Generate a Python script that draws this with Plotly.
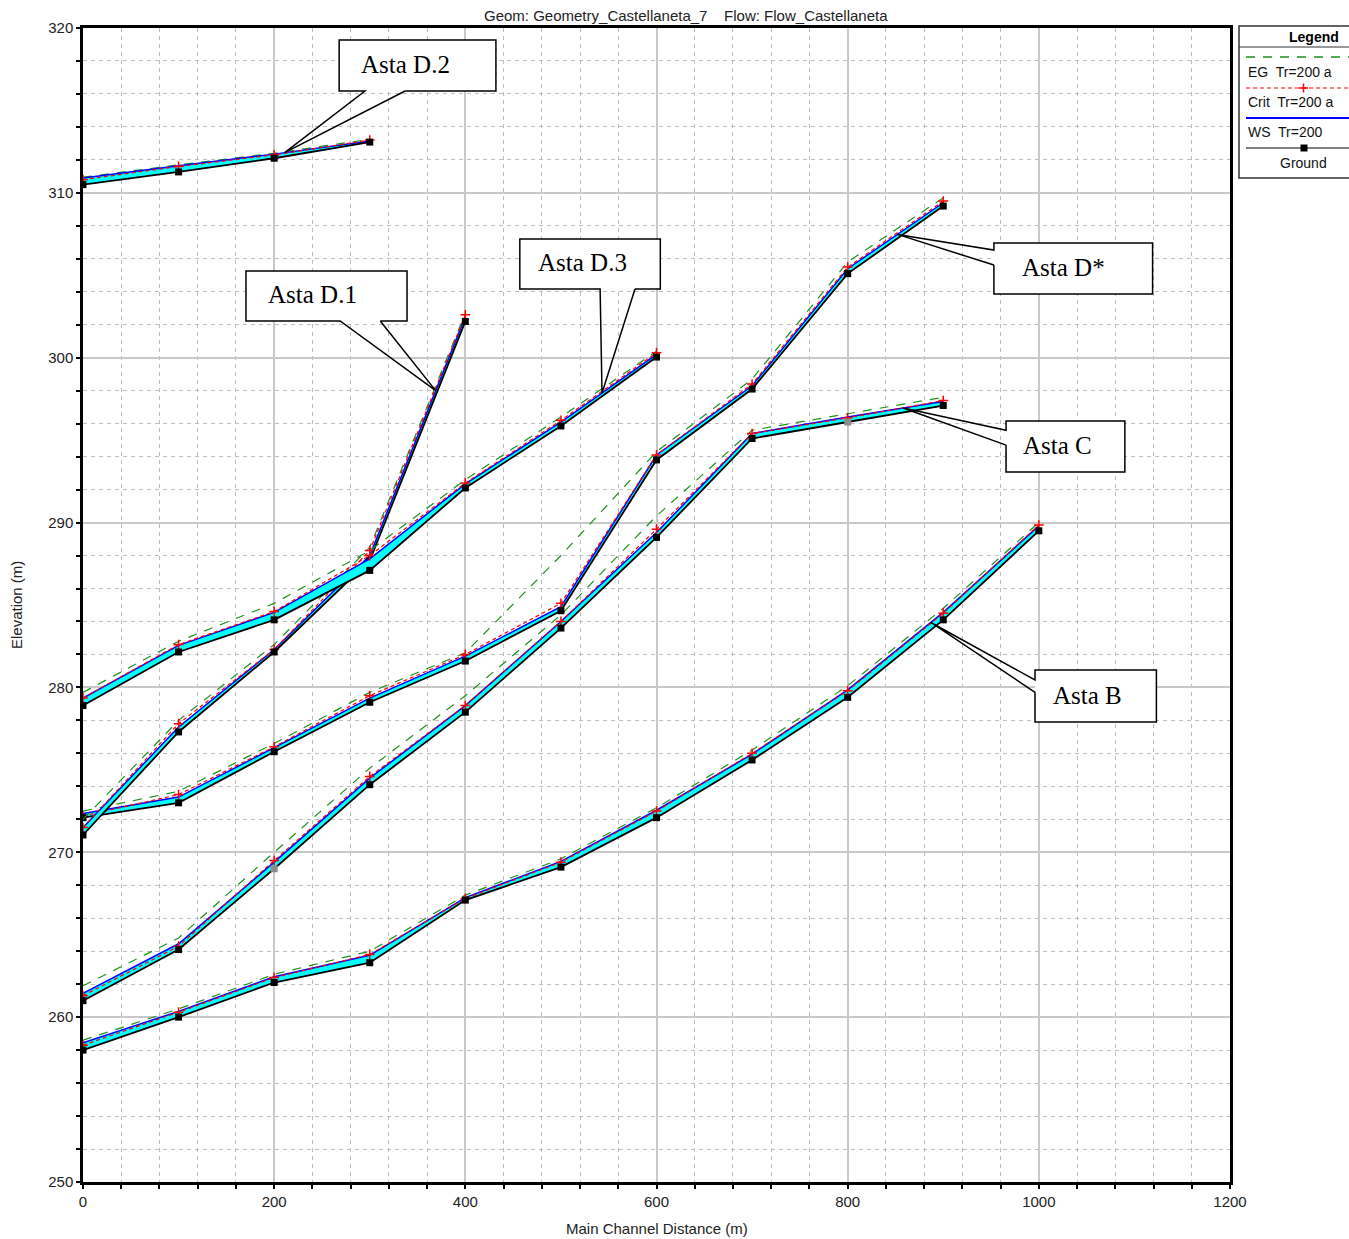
import numpy as np
import plotly.graph_objects as go

# ---------------- data ----------------
# Asta B
b_x = [0, 100, 200, 300, 400, 500, 600, 700, 800, 900, 1000]
b_ground = [258.0, 260.0, 262.1, 263.3, 267.1, 269.1, 272.1, 275.6, 279.4, 284.1, 289.5]
b_ws = [258.45, 260.35, 262.45, 263.75, 267.25, 269.45, 272.55, 275.95, 279.85, 284.55, 289.8]
b_crit = [258.3, 260.3, 262.4, 263.8, 267.2, 269.4, 272.5, 276.0, 279.8, 284.5, 289.85]
b_eg = [258.6, 260.5, 262.6, 264.0, 267.4, 269.6, 272.7, 276.2, 280.1, 284.8, 290.0]

# Asta C
c_x = [0, 100, 200, 300, 400, 500, 600, 700, 800, 900]
c_ground = [261.0, 264.1, 269.0, 274.1, 278.5, 283.6, 289.1, 295.1, 296.1, 297.1]
c_ws = [261.45, 264.45, 269.4, 274.5, 278.9, 284.0, 289.4, 295.4, 296.4, 297.35]
c_crit = [261.3, 264.3, 269.5, 274.6, 278.9, 284.0, 289.6, 295.4, 296.35, 297.4]
c_eg = [261.9, 264.8, 270.0, 275.1, 279.5, 284.4, 290.4, 295.6, 296.6, 297.6]
c_interp = [False, False, True, False, False, False, False, False, True, False]

# Asta D*
ds_x = [0, 100, 200, 300, 400, 500, 600, 700, 800, 900]
ds_ground = [272.1, 273.0, 276.1, 279.1, 281.6, 284.65, 293.8, 298.1, 305.1, 309.2]
ds_ws = [272.35, 273.35, 276.35, 279.35, 281.9, 284.9, 294.1, 298.3, 305.4, 309.4]
ds_crit = [272.2, 273.5, 276.4, 279.5, 282.0, 285.1, 294.1, 298.4, 305.5, 309.5]
ds_eg = [272.5, 273.7, 276.6, 279.7, 282.1, 288.0, 294.3, 298.7, 305.8, 309.7]

# Asta D.1
d1_x = [0, 100, 200, 300, 400]
d1_ground = [271.05, 277.3, 282.15, 287.7, 302.2]
d1_ws = [271.5, 277.6, 282.3, 288.0, 302.5]
d1_crit = [271.5, 277.8, 282.3, 288.3, 302.6]
d1_eg = [272.0, 278.0, 282.6, 288.5, 302.7]

# Asta D.3
d3_x = [0, 100, 200, 300, 400, 500, 600]
d3_ground = [278.9, 282.15, 284.1, 287.1, 292.1, 295.86, 300.04]
d3_ws = [279.35, 282.55, 284.55, 287.8, 292.35, 296.1, 300.2]
d3_crit = [279.36, 282.6, 284.6, 288.0, 292.4, 296.2, 300.3]
d3_eg = [279.7, 282.8, 285.1, 288.3, 292.6, 296.4, 300.4]

# Asta D.2
d2_x = [0, 100, 200, 300]
d2_ground = [310.5, 311.27, 312.1, 313.08]
d2_ws = [310.9, 311.65, 312.35, 313.15]
d2_crit = [310.8, 311.6, 312.3, 313.2]
d2_eg = [310.95, 311.7, 312.4, 313.25]

reaches = [
    ("Asta B", b_x, b_ground, b_ws, b_crit, b_eg, None),
    ("Asta C", c_x, c_ground, c_ws, c_crit, c_eg, c_interp),
    ("Asta D*", ds_x, ds_ground, ds_ws, ds_crit, ds_eg, None),
    ("Asta D.1", d1_x, d1_ground, d1_ws, d1_crit, d1_eg, None),
    ("Asta D.3", d3_x, d3_ground, d3_ws, d3_crit, d3_eg, None),
    ("Asta D.2", d2_x, d2_ground, d2_ws, d2_crit, d2_eg, None),
]

title_text = "Geom: Geometry_Castellaneta_7    Flow: Flow_Castellaneta"
x_title = "Main Channel Distance (m)"
y_title = "Elevation (m)"
legend_title = "Legend"
legend_labels = ["EG  Tr=200 a", "Crit  Tr=200 a", "WS  Tr=200", "Ground"]

# ---------------- styling ----------------
C_EG = "#1e8f1e"
C_CRIT = "#ff0000"
C_WS = "#0000ff"
C_GROUND = "#000000"
C_FILL = "#00ffff"
FONT = "Liberation Sans, Arial, sans-serif"
SERIF = "Liberation Serif, Times New Roman, serif"

W, H = 1349, 1239
L, R, T, B = 83, 1230, 28, 1182


def pxx(p):
    return (p - L) / (R - L)


def pxy(p):
    return (B - p) / (B - T)


fig = go.Figure()

for name, xs, g, ws, cr, eg, interp in reaches:
    xs_a = np.array(xs, dtype=float)
    fig.add_trace(go.Scatter(
        x=np.concatenate([xs_a, xs_a[::-1]]),
        y=np.concatenate([np.array(g), np.array(ws)[::-1]]),
        fill="toself", fillcolor=C_FILL, mode="none",
        hoverinfo="skip", showlegend=False))
    fig.add_trace(go.Scatter(x=xs, y=eg, mode="lines",
                             line=dict(color=C_EG, width=1.2, dash="9px,8px"),
                             showlegend=False, name="EG " + name))
    fig.add_trace(go.Scatter(x=xs, y=ws, mode="lines",
                             line=dict(color=C_WS, width=1.5),
                             showlegend=False, name="WS " + name))
    fig.add_trace(go.Scatter(x=xs, y=cr, mode="lines+markers",
                             line=dict(color=C_CRIT, width=1.2, dash="4px,3px"),
                             marker=dict(symbol="cross-thin", size=7,
                                         line=dict(color=C_CRIT, width=1.5)),
                             showlegend=False, name="Crit " + name))
    mcol = C_GROUND if interp is None else ["#8c8c8c" if f else C_GROUND for f in interp]
    fig.add_trace(go.Scatter(x=xs, y=g, mode="lines+markers",
                             line=dict(color=C_GROUND, width=1.8),
                             marker=dict(symbol="square", size=7, color=mcol),
                             showlegend=False, name="Ground " + name))

# ---------------- callouts ----------------
callouts = [
    ("Asta D.2", d2_x, d2_ws, 211, (268, 432, 316.18, 319.27), [(295, 316.18), (337, 316.18)], "bottom"),
    ("Asta D.1", d1_x, d1_ws, 369, (170.5, 339, 302.23, 305.26), [(269, 302.23), (311, 302.23)], "bottom"),
    ("Asta D.3", d3_x, d3_ws, 543, (457, 604, 304.17, 307.2), [(541, 304.17), (577.5, 304.17)], "bottom"),
    ("Asta D*", ds_x, ds_ws, 852, (953, 1119, 303.87, 306.96), [(953, 306.53), (953, 305.62)], "left"),
    ("Asta C", c_x, c_ws, 858, (965.7, 1090, 293.07, 296.16), [(965.7, 295.6), (965.7, 294.7)], "left"),
    ("Asta B", b_x, b_ws, 887, (996, 1123, 277.9, 281.06), [(996, 280.45), (996, 279.7)], "left"),
]
text_shift = [-12, -14, -8, -10, -8, -8]

shapes = []
annotations = []
for (label, rx, rws, tx, (x0, x1, y0, y1), base, side), xs_ in zip(callouts, text_shift):
    ty = float(np.interp(tx, rx, rws))
    shapes.append(dict(type="rect", xref="x", yref="y", x0=x0, x1=x1, y0=y0, y1=y1,
                       fillcolor="white", line=dict(width=0), layer="above"))
    (ax, ay), (bx, by) = base
    if side == "bottom":
        pts = [(bx, by), (x1, y0), (x1, y1), (x0, y1), (x0, y0), (ax, ay), (tx, ty), (bx, by)]
    else:
        pts = [(bx, by), (x0, y0), (x1, y0), (x1, y1), (x0, y1), (ax, ay), (tx, ty), (bx, by)]
    path = "M " + " L ".join(f"{px},{py}" for px, py in pts)
    shapes.append(dict(type="path", xref="x", yref="y", path=path,
                       line=dict(color="black", width=1.5), layer="above"))
    annotations.append(dict(x=(x0 + x1) / 2, y=(y0 + y1) / 2, xref="x", yref="y",
                            xanchor="center", yanchor="middle",
                            text=label, showarrow=False, xshift=xs_, yshift=1,
                            font=dict(family=SERIF, size=25, color="black")))

# ---------------- custom legend ----------------
lx0, lx1, ly0, ly1 = 1239, 1375, 26, 178
shapes.append(dict(type="rect", xref="paper", yref="paper",
                   x0=pxx(lx0), x1=pxx(lx1), y0=pxy(ly1), y1=pxy(ly0),
                   fillcolor="white", line=dict(color="#333", width=1.5)))
shapes.append(dict(type="line", xref="paper", yref="paper",
                   x0=pxx(lx0), x1=pxx(lx1), y0=pxy(47), y1=pxy(47),
                   line=dict(color="#333", width=1)))
annotations.append(dict(x=pxx(1341), y=pxy(37), xref="paper", yref="paper",
                        text="<b>" + legend_title + "</b>", showarrow=False,
                        xanchor="right", yanchor="middle",
                        font=dict(family=FONT, size=14, color="black")))
leg_styles = [
    (57, 72, dict(color=C_EG, width=1.5, dash="9px,8px"), None, 1246),
    (88, 102, dict(color=C_CRIT, width=1.2, dash="4px,3px"), "cross", 1246),
    (118, 132, dict(color=C_WS, width=2), None, 1246),
    (148, 163, dict(color=C_GROUND, width=1.2), "square", 1278),
]
for (ly, ty_, lstyle, mk, tx_), lab in zip(leg_styles, legend_labels):
    shapes.append(dict(type="line", xref="paper", yref="paper",
                       x0=pxx(1246), x1=pxx(1375), y0=pxy(ly), y1=pxy(ly),
                       line=lstyle))
    if mk == "cross":
        shapes.append(dict(type="line", xref="paper", yref="paper",
                           x0=pxx(1299), x1=pxx(1308), y0=pxy(ly), y1=pxy(ly),
                           line=dict(color=C_CRIT, width=1.5)))
        shapes.append(dict(type="line", xref="paper", yref="paper",
                           x0=pxx(1303.5), x1=pxx(1303.5), y0=pxy(ly - 4.5), y1=pxy(ly + 4.5),
                           line=dict(color=C_CRIT, width=1.5)))
    elif mk == "square":
        shapes.append(dict(type="rect", xref="paper", yref="paper",
                           x0=pxx(1300.5), x1=pxx(1307.5), y0=pxy(ly + 3.5), y1=pxy(ly - 3.5),
                           fillcolor="black", line=dict(width=0)))
    annotations.append(dict(x=pxx(tx_), y=pxy(ty_), xref="paper", yref="paper",
                            text=lab, showarrow=False, xanchor="left", yanchor="middle",
                            font=dict(family=FONT, size=14, color="#111")))

# titles
annotations.append(dict(x=pxx(686), y=pxy(15), xref="paper", yref="paper",
                        text=title_text, showarrow=False,
                        xanchor="center", yanchor="middle",
                        font=dict(family=FONT, size=15, color="#222")))
annotations.append(dict(x=pxx(657), y=pxy(1228), xref="paper", yref="paper",
                        text=x_title, showarrow=False,
                        xanchor="center", yanchor="middle",
                        font=dict(family=FONT, size=15, color="#222")))
annotations.append(dict(x=pxx(16), y=pxy(605), xref="paper", yref="paper",
                        text=y_title, showarrow=False, textangle=-90,
                        xanchor="center", yanchor="middle",
                        font=dict(family=FONT, size=15, color="#222")))

axis_common = dict(
    showline=True, linecolor="black", linewidth=2.5, mirror=True,
    ticks="outside", ticklen=4, tickcolor="black", tickwidth=1.5,
    showgrid=True, gridcolor="#c8c8c8", gridwidth=1.5, zeroline=False,
    tickfont=dict(family=FONT, size=15, color="#222"),
)

fig.update_layout(
    width=W, height=H,
    margin=dict(l=L, r=W - R, t=T, b=H - B, pad=0),
    paper_bgcolor="white", plot_bgcolor="white",
    showlegend=False,
    xaxis=dict(range=[0, 1200], tick0=0, dtick=200,
               minor=dict(dtick=40, ticks="outside", ticklen=4, tickcolor="black",
                          showgrid=True, gridcolor="#bdbdbd", griddash="4px,4px", gridwidth=1),
               **axis_common),
    yaxis=dict(range=[250, 320], tick0=250, dtick=10,
               minor=dict(dtick=2, ticks="outside", ticklen=4, tickcolor="black",
                          showgrid=True, gridcolor="#bdbdbd", griddash="4px,4px", gridwidth=1),
               **axis_common),
    shapes=shapes,
    annotations=annotations,
)

fig.write_html("out.html")
